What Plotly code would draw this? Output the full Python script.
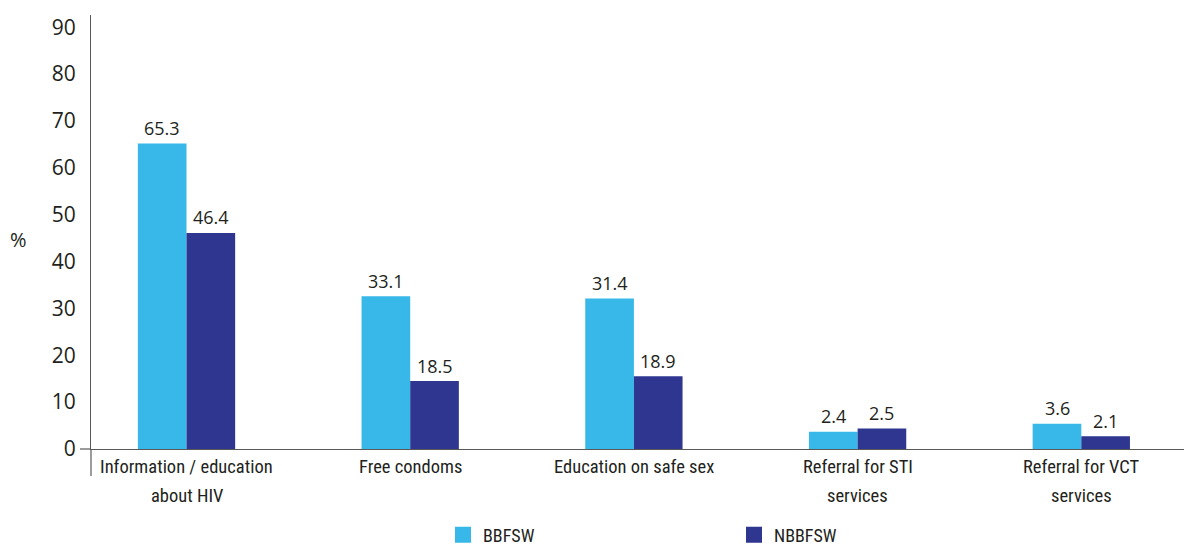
import plotly.graph_objects as go

# ---- data ----
categories = ["Information / education\nabout HIV", "Free condoms", "Education on safe sex",
              "Referral for STI\nservices", "Referral for VCT\nservices"]
series_names = ["BBFSW", "NBBFSW"]
# bar heights as drawn in the reference
bbfsw_heights = [65.2, 32.6, 32.1, 3.7, 5.4]
nbbfsw_heights = [46.1, 14.5, 15.5, 4.4, 2.7]
# value labels as printed in the reference
bbfsw_labels = ["65.3", "33.1", "31.4", "2.4", "3.6"]
nbbfsw_labels = ["46.4", "18.5", "18.9", "2.5", "2.1"]
y_ticks = [0, 10, 20, 30, 40, 50, 60, 70, 80, 90]

colors = ["#37B8E9", "#2E3690"]
text_color = "#231F20"
num_font = "Open Sans, Segoe UI, sans-serif"
word_font = "Roboto Condensed, Liberation Sans Narrow, Roboto, sans-serif"

OFF = 8  # default page body margin
W, H = 1192 - OFF, 545 - OFF
ML, MR, MT, MB = 91 - OFF, 0, 15 - OFF, 96
plot_w = W - ML - MR
plot_h = H - MT - MB

x_idx = list(range(len(categories)))

fig = go.Figure()
for name, vals, col in [(series_names[0], bbfsw_heights, colors[0]),
                        (series_names[1], nbbfsw_heights, colors[1])]:
    fig.add_trace(go.Bar(x=x_idx, y=vals, name=name, marker_color=col,
                         marker_line_width=0, showlegend=False))
# legend entries
for name, col in zip(series_names, colors):
    fig.add_trace(go.Scatter(x=[None], y=[None], mode="markers", name=name,
                             marker=dict(symbol="square", size=16, color=col)))

bar_off = 24.3  # px offset of each bar from group centre
annotations = []
for vals, labels, sign in [(bbfsw_heights, bbfsw_labels, -1), (nbbfsw_heights, nbbfsw_labels, 1)]:
    for i, (v, t) in enumerate(zip(vals, labels)):
        annotations.append(dict(x=i, y=v, xref="x", yref="y", text=t, showarrow=False,
                                xshift=sign * bar_off, yshift=15.5, yanchor="middle",
                                font=dict(family=num_font, size=18, color=text_color)))
# category labels
for i, c in enumerate(categories):
    for j, line in enumerate(c.split("\n")):
        annotations.append(dict(x=i, y=0, xref="x", yref="paper", text=line, showarrow=False,
                                yanchor="middle", yshift=-17.5 - 29 * j,
                                font=dict(family=word_font, size=18.5, color=text_color)))
# y-axis title
annotations.append(dict(x=(18 - OFF - ML) / plot_w, y=(MT + plot_h - (239 - OFF)) / plot_h,
                        xref="paper", yref="paper",
                        text="%", showarrow=False, xanchor="center", yanchor="middle",
                        font=dict(family=num_font, size=20, color=text_color)))

axis_col = "#595959"
shapes = [
    # y axis line extension below the x axis
    dict(type="line", xref="paper", yref="paper", x0=0, x1=0, y0=0, y1=-27 / plot_h,
         line=dict(color=axis_col, width=1.2)),
    # tick at zero
    dict(type="line", xref="paper", yref="paper", x0=-11 / plot_w, x1=0, y0=0, y1=0,
         line=dict(color=axis_col, width=1.2)),
]

center0 = 186.5 - OFF
spacing = 223.7
x_lo = (ML - center0) / spacing
x_hi = x_lo + plot_w / spacing

fig.update_layout(
    width=W, height=H,
    margin=dict(l=ML, r=MR, t=MT, b=MB, pad=0, autoexpand=False),
    paper_bgcolor="white", plot_bgcolor="white",
    barmode="group", bargap=0.565, bargroupgap=0,
    xaxis=dict(range=[x_lo, x_hi], showticklabels=False, showgrid=False, zeroline=False,
               showline=True, linecolor=axis_col, linewidth=1.2, ticks="", automargin=False),
    yaxis=dict(range=[0, 92.6], tickvals=y_ticks, showgrid=False, zeroline=False,
               showline=True, linecolor=axis_col, linewidth=1.2, ticks="",
               ticklabelstandoff=10, automargin=False,
               tickfont=dict(family=num_font, size=21, color=text_color)),
    legend=dict(orientation="h", x=(443 - OFF) / W, xanchor="left", xref="container",
                y=(H - (535 - OFF)) / H, yanchor="middle", yref="container",
                entrywidth=246, entrywidthmode="pixels",
                font=dict(family=word_font, size=18, color=text_color),
                bgcolor="rgba(0,0,0,0)"),
    annotations=annotations,
    shapes=shapes,
)

fig.write_html("out.html")
